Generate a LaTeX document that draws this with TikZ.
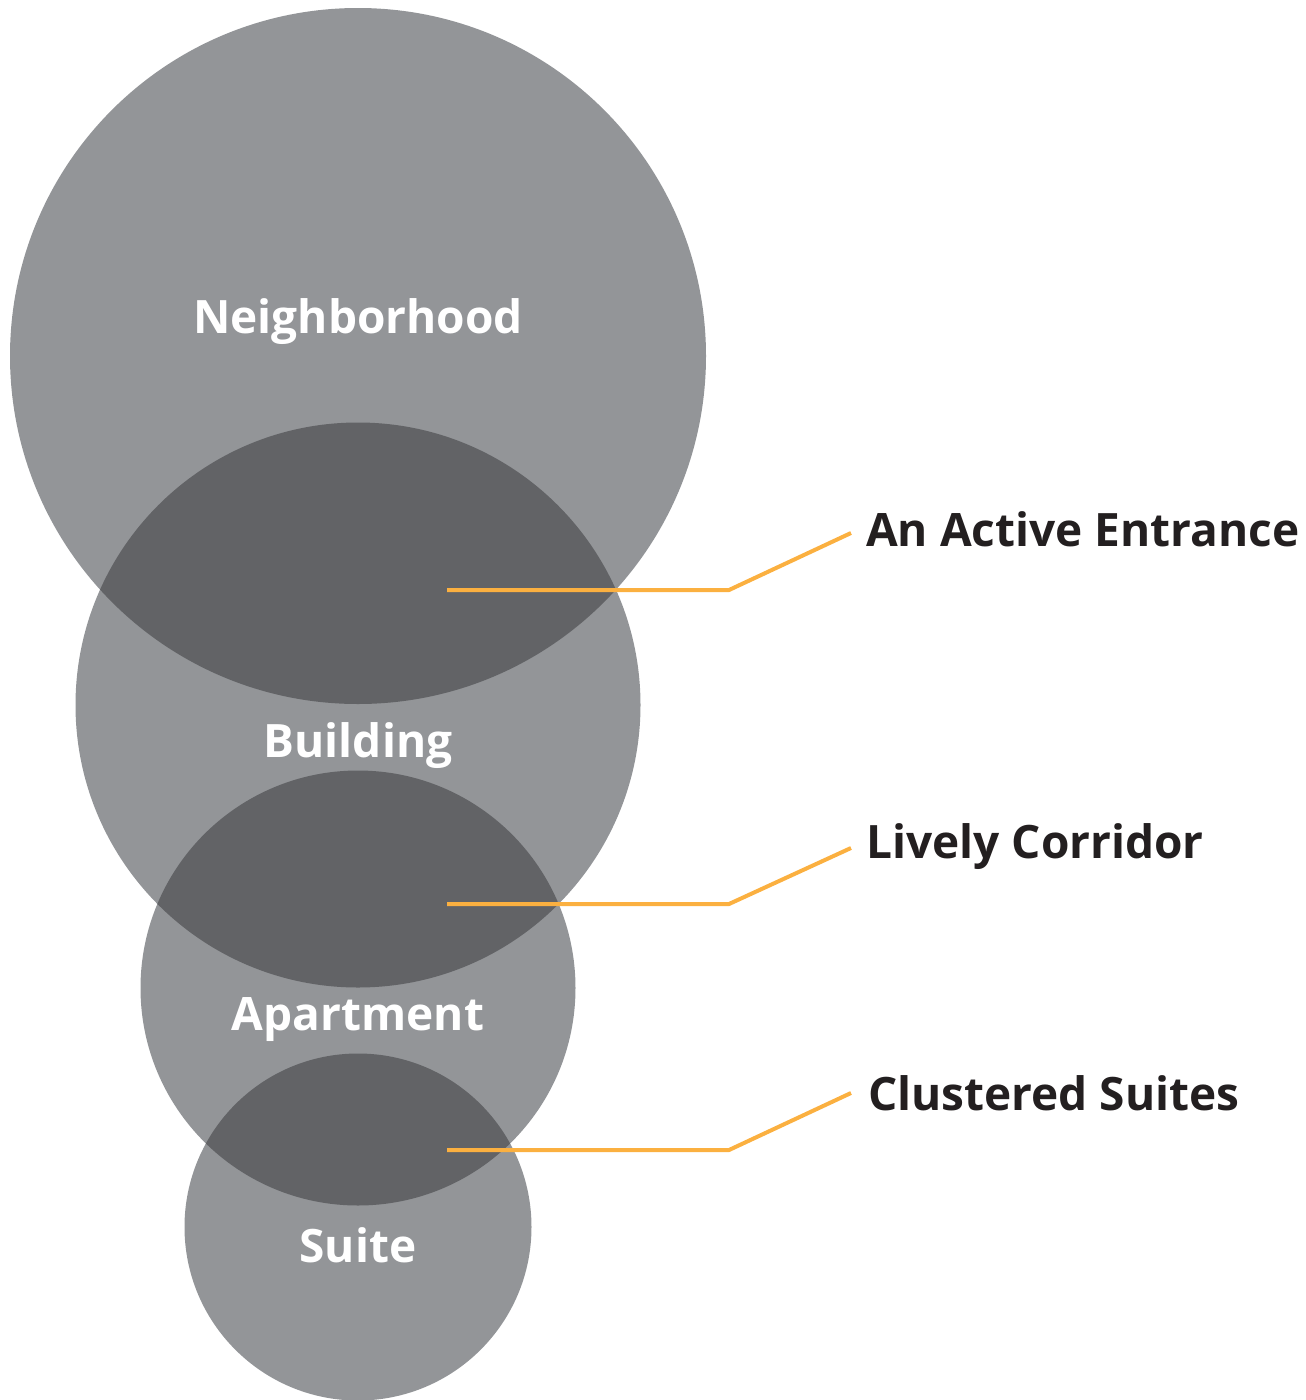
\documentclass[tikz,border=0pt]{standalone}
\usepackage{fontspec}
\setmainfont{Open Sans}
\definecolor{ringgray}{HTML}{939598}
\definecolor{overlapgray}{HTML}{626366}
\definecolor{leadorange}{HTML}{FBB040}
\definecolor{labelink}{HTML}{231F20}
\begin{document}
\begin{tikzpicture}[x=1pt,y=-1pt,
  ring/.style={fill=ringgray},
  overlap/.style={fill=overlapgray},
  ringlabel/.style={anchor=base,text=white,inner sep=0pt,font=\fontsize{46}{50}\selectfont\bfseries},
  sidelabel/.style={anchor=base west,text=labelink,inner sep=0pt,font=\fontsize{46}{50}\selectfont\bfseries},
  leader/.style={draw=leadorange,line width=4pt}]
\useasboundingbox (0,0) rectangle (1306,1400);

% circle centres
\coordinate (cN) at (358,356);
\coordinate (cB) at (358,705);
\coordinate (cA) at (358,988);
\coordinate (cS) at (358,1227);

% the four nested levels
\fill[ring] (cN) circle[radius=348pt];
\fill[ring] (cB) circle[radius=282.5pt];
\fill[ring] (cA) circle[radius=217.5pt];
\fill[ring] (cS) circle[radius=173.5pt];

% overlapping lenses
\begin{scope}
  \clip (cN) circle[radius=348pt];
  \fill[overlap] (cB) circle[radius=282.5pt];
\end{scope}
\begin{scope}
  \clip (cB) circle[radius=282.5pt];
  \fill[overlap] (cA) circle[radius=217.5pt];
\end{scope}
\begin{scope}
  \clip (cA) circle[radius=217.5pt];
  \fill[overlap] (cS) circle[radius=173.5pt];
\end{scope}

% level names
\node[ringlabel] (lN) at (358,333) {Neighborhood};
\node[ringlabel] (lB) at (358,757) {Building};
\node[ringlabel] (lA) at (358,1030) {Apartment};
\node[ringlabel] (lS) at (358,1262) {Suite};

% side labels
\node[sidelabel] (tE) at (866,546) {An Active Entrance};
\node[sidelabel] (tC) at (866,858) {Lively Corridor};
\node[sidelabel] (tS) at (868,1110) {Clustered Suites};

% leader lines
\coordinate (sE) at (447,590);
\coordinate (kE) at (729,590);
\coordinate (eE) at (851,533);
\coordinate (sC) at (447,904);
\coordinate (kC) at (729,904);
\coordinate (eC) at (851,848);
\coordinate (sS) at (447,1150);
\coordinate (kS) at (729,1150);
\coordinate (eS) at (851,1093);
\draw[leader] (sE) -- (kE) -- (eE);
\draw[leader] (sC) -- (kC) -- (eC);
\draw[leader] (sS) -- (kS) -- (eS);
\end{tikzpicture}
\end{document}
